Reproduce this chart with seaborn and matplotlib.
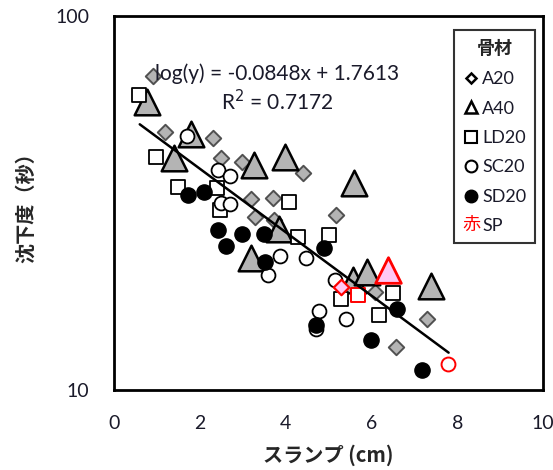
import numpy as np
import pandas as pd
import matplotlib
matplotlib.use('Agg')
import matplotlib.pyplot as plt
import matplotlib.text as mtext
from matplotlib.lines import Line2D
from matplotlib.legend_handler import HandlerBase
import seaborn as sns

# ---- data ----
a20_x = [0.92, 1.2, 2.3, 2.5, 2.98, 4.4, 3.2, 3.7, 3.28, 3.72, 5.18, 6.09, 7.29, 6.57]
a20_y = [69.2, 49.1, 47.1, 41.8, 40.8, 38.0, 32.4, 32.6, 29.0, 28.5, 29.4, 18.3, 15.5, 13.0]

a40_x = [0.78, 1.8, 1.4, 3.27, 3.99, 5.59, 3.85, 3.2, 5.57, 5.89, 7.39]
a40_y = [59.0, 48.5, 41.7, 40.0, 42.1, 35.7, 27.0, 22.5, 19.7, 20.7, 19.0]

ld20_x = [0.58, 0.99, 1.49, 2.4, 2.48, 4.09, 4.3, 5.0, 5.3, 6.5, 6.17]
ld20_y = [61.5, 42.1, 35.0, 34.6, 30.3, 31.9, 25.6, 25.9, 17.5, 18.2, 15.9]

sc20_x = [1.7, 2.42, 2.7, 2.5, 2.71, 3.88, 4.48, 3.6, 5.14, 4.79, 4.7, 5.4]
sc20_y = [47.7, 38.7, 37.4, 31.7, 31.4, 22.8, 22.5, 20.3, 19.7, 16.3, 14.6, 15.5]

sd20_x = [1.72, 2.09, 2.43, 2.99, 3.49, 2.6, 4.89, 3.51, 6.59, 4.7, 5.99, 7.18]
sd20_y = [33.2, 33.8, 26.7, 26.2, 26.1, 24.3, 23.9, 22.0, 16.5, 14.9, 13.6, 11.3]

# SP (red) points, one per aggregate shape
sp_a20_x, sp_a20_y = [5.3], [18.9]
sp_a40_x, sp_a40_y = [6.38], [20.9]
sp_ld20_x, sp_ld20_y = [5.68], [17.9]
sp_sc20_x, sp_sc20_y = [7.78], [11.7]

# trend line log(y) = a*x + b
slope, intercept = -0.0848, 1.7613
fit_range = [0.6, 7.8]

x_ticks = [0, 2, 4, 6, 8, 10]
y_ticks = [10, 100]

GRAY = '#b4b4b4'
PINK = '#ffc8f5'
TXT = '#1a1a2a'

sns.set_style('white')
plt.rcParams['font.family'] = ['Lato', 'Noto Sans CJK JP', 'DejaVu Sans']

fig = plt.figure(figsize=(5.53, 4.70), dpi=100)
ax = fig.add_axes([114 / 553, 80 / 470, 429 / 553, 374 / 470])

# marker styles per series
series = [
    (a20_x, a20_y, dict(marker='D', s=62, color=GRAY, edgecolor='#505050', linewidth=1.4)),
    (a40_x, a40_y, dict(marker='^', s=340, color=GRAY, edgecolor='black', linewidth=1.8)),
    (ld20_x, ld20_y, dict(marker='s', s=105, color='white', edgecolor='black', linewidth=1.3)),
    (sc20_x, sc20_y, dict(marker='o', s=100, color='white', edgecolor='black', linewidth=1.3)),
    (sd20_x, sd20_y, dict(marker='o', s=120, color='black', edgecolor='black', linewidth=1.0)),
    (sp_a20_x, sp_a20_y, dict(marker='D', s=62, color=PINK, edgecolor='red', linewidth=1.6)),
    (sp_a40_x, sp_a40_y, dict(marker='^', s=340, color=PINK, edgecolor='red', linewidth=2.0)),
    (sp_ld20_x, sp_ld20_y, dict(marker='s', s=105, color='white', edgecolor='red', linewidth=1.4)),
    (sp_sc20_x, sp_sc20_y, dict(marker='o', s=100, color='white', edgecolor='red', linewidth=1.4)),
]
for i, (xs, ys, kw) in enumerate(series):
    sns.scatterplot(x=xs, y=ys, ax=ax, zorder=3 + i, legend=False, **kw)

xf = np.linspace(fit_range[0], fit_range[1], 50)
fit = pd.DataFrame({'x': xf, 'y': 10 ** (slope * xf + intercept)})
sns.lineplot(data=fit, x='x', y='y', ax=ax, color='black', linewidth=1.8, zorder=20)

ax.set_yscale('log')
ax.set_xlim(0, 10)
ax.set_ylim(10, 100)
ax.set_xticks(x_ticks)
ax.set_xticklabels([str(t) for t in x_ticks])
ax.set_yticks(y_ticks)
ax.set_yticklabels([str(t) for t in y_ticks])
ax.yaxis.set_minor_locator(matplotlib.ticker.NullLocator())
ax.tick_params(axis='x', direction='in', length=5, width=1.5, pad=18,
               labelsize=14, labelcolor=TXT)
ax.tick_params(axis='y', length=0, pad=18, labelsize=14, labelcolor=TXT)
for sp in ax.spines.values():
    sp.set_linewidth(2)
    sp.set_color('black')

ax.set_xlabel('スランプ (cm)', fontsize=14.5, fontweight='bold',
              family=['Noto Sans CJK JP'], labelpad=9)
ax.set_ylabel('沈下度（秒）', fontsize=14.5, fontweight='bold',
              family=['Noto Sans CJK JP'], labelpad=14)

# regression equation, drawn above the points like the spreadsheet label
ax.text(0.381, 0.845, 'log(y) = -0.0848x + 1.7613', transform=ax.transAxes,
        ha='center', va='center', fontsize=15, color=TXT, zorder=25)
ax.text(0.381, 0.771, 'R$^2$ = 0.7172', transform=ax.transAxes,
        ha='center', va='center', fontsize=15, color=TXT, zorder=25)


class RedCharHandler(HandlerBase):
    def create_artists(self, legend, orig_handle, xdescent, ydescent,
                       width, height, fontsize, trans):
        t = mtext.Text(width / 2 - xdescent, height / 2 - ydescent, '赤',
                       color='red', ha='center', va='center', fontsize=fontsize,
                       family=['Noto Sans CJK JP'], transform=trans)
        return [t]


sp_handle = object()
handles = [
    Line2D([], [], ls='none', marker='D', ms=5.5, mfc='white', mec='black', mew=1.8),
    Line2D([], [], ls='none', marker='^', ms=8.5, mfc='white', mec='black', mew=1.8),
    Line2D([], [], ls='none', marker='s', ms=8.5, mfc='white', mec='black', mew=1.5),
    Line2D([], [], ls='none', marker='o', ms=8.5, mfc='white', mec='black', mew=1.5),
    Line2D([], [], ls='none', marker='o', ms=9, mfc='black', mec='black'),
    sp_handle,
]
labels = ['A20', 'A40', 'LD20', 'SC20', 'SD20', 'SP']
leg = ax.legend(handles, labels, title='骨材', loc='upper left',
                bbox_to_anchor=(0.7925, 0.9626), borderaxespad=0,
                fontsize=13, handlelength=0.9, handletextpad=0.15,
                labelspacing=0.74, borderpad=0.5, frameon=True,
                fancybox=False, handler_map={sp_handle: RedCharHandler()})
leg.get_frame().set_edgecolor('black')
leg.get_frame().set_linewidth(1.5)
leg.get_title().set_fontweight('bold')
leg.get_title().set_fontsize(13)
leg.get_title().set_family(['Noto Sans CJK JP'])
leg.set_zorder(30)
for t in leg.get_texts():
    t.set_color(TXT)

plt.savefig('out.png', dpi=100)
